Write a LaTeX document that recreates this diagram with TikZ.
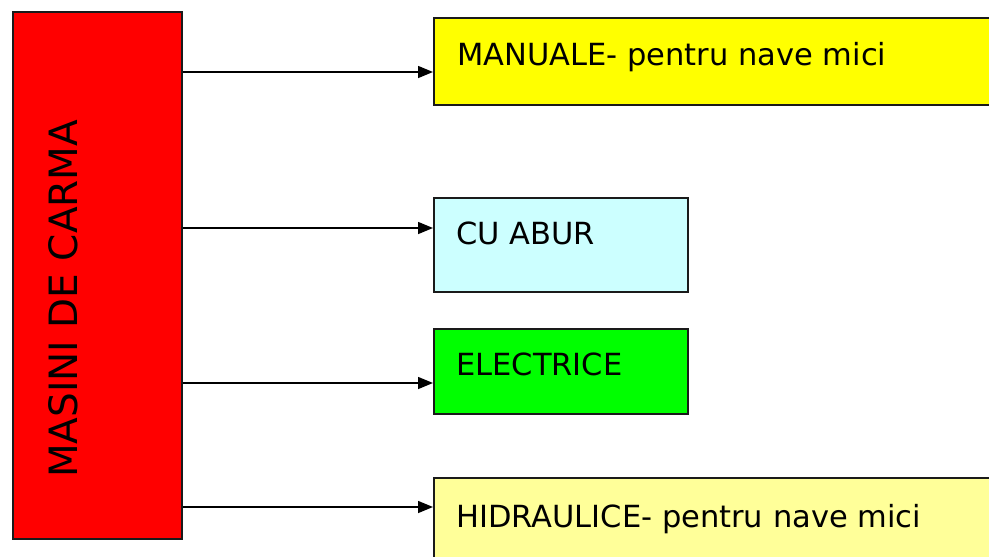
\documentclass[tikz,border=0pt]{standalone}
\usepackage{fontspec}
\setmainfont{DejaVu Sans}
\usetikzlibrary{arrows.meta}
\definecolor{boxred}{HTML}{FF0000}
\definecolor{boxyellow}{HTML}{FFFF00}
\definecolor{boxcyan}{HTML}{CCFFFF}
\definecolor{boxgreen}{HTML}{00FF00}
\definecolor{boxpale}{HTML}{FFFF99}
\definecolor{edge}{HTML}{1A1A1A}
\begin{document}
\begin{tikzpicture}[x=1pt,y=-1pt,
  box/.style={draw=edge, line width=2.2pt, rectangle, anchor=north west, inner sep=0pt},
  label text/.style={anchor=base west, inner sep=0pt, font=\fontsize{30.5}{32}\selectfont},
  arr/.style={draw=black, line width=1.5pt, -{Triangle[length=15pt,width=12pt]}}]
  \useasboundingbox (0,0) rectangle (989,557);
  % main box
  \node[box, fill=boxred, minimum width=169pt, minimum height=527pt] (main) at (12,11) {};
  \node[anchor=base west, inner sep=0pt, rotate=90, font=\fontsize{39}{42}\selectfont] (maintext) at (77,478) {MASINI DE CARMA};
  % target boxes
  \node[box, fill=boxyellow, minimum width=580pt, minimum height=87pt] (manual) at (433,17) {};
  \node[box, fill=boxcyan, minimum width=254pt, minimum height=94pt] (abur) at (433,197) {};
  \node[box, fill=boxgreen, minimum width=254pt, minimum height=85pt] (electr) at (433,328) {};
  \node[box, fill=boxpale, minimum width=580pt, minimum height=120pt] (hidr) at (433,477) {};
  % labels
  \node[label text] (t1) at (457,65) {MANUALE- pentru nave mici};
  \node[label text] (t2) at (456,244) {CU ABUR};
  \node[label text] (t3) at (456,375) {ELECTRICE};
  \node[label text] (t4) at (456,527) {HIDRAULICE- pentru nave mici};
  % arrow heights
  \coordinate (y1) at (0,72);
  \coordinate (y2) at (0,228);
  \coordinate (y3) at (0,383);
  \coordinate (y4) at (0,507);
  \draw[arr] (main.east |- y1) -- (manual.west |- y1);
  \draw[arr] (main.east |- y2) -- (abur.west |- y2);
  \draw[arr] (main.east |- y3) -- (electr.west |- y3);
  \draw[arr] (main.east |- y4) -- (hidr.west |- y4);
\end{tikzpicture}
\end{document}
